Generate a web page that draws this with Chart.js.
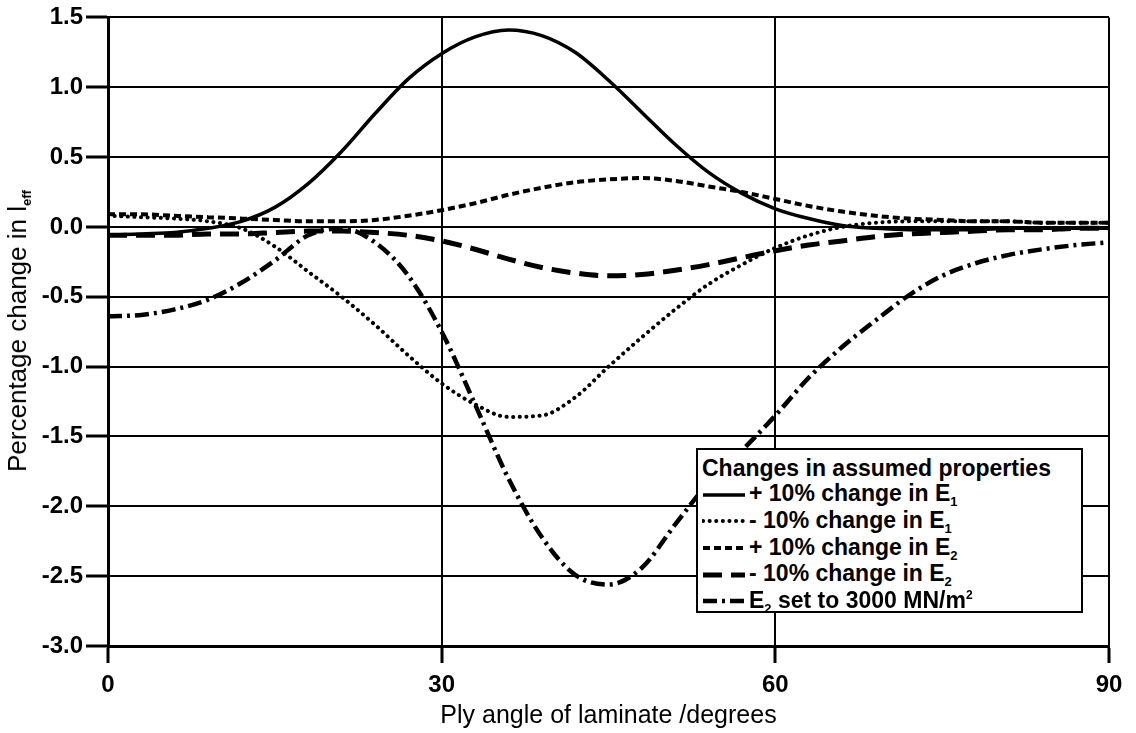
<!DOCTYPE html>
<html>
<head>
<meta charset="utf-8">
<script src="https://cdn.jsdelivr.net/npm/chart.js@4/dist/chart.umd.min.js"></script>
<style>
  html, body { margin: 0; padding: 0; background: #fff; }
  #wrap { position: relative; width: 1136px; height: 733px; }
  #ytitle {
    position: absolute; left: 18px; top: 331px;
    transform: translate(-50%, -50%) rotate(-90deg);
    white-space: nowrap; font: 26px "Liberation Sans", Arial, sans-serif; color: #000;
  }
  #ytitle sub { font-size: 13px; font-weight: bold; vertical-align: -5px; }
  #legend {
    position: absolute; left: 696px; top: 448px; width: 387px; height: 165px;
    box-sizing: border-box; border: 2px solid #000; background: #fff;
    font: bold 23px "Liberation Sans", Arial, sans-serif; color: #000;
    padding: 5px 0 0 4px;
  }
  #legend .row { display: flex; align-items: center; height: 26.6px; white-space: nowrap; }
  #legend svg { flex: none; margin-right: 3px; }
  #legend sub { font-size: 13px; vertical-align: -5px; }
  #legend sup { font-size: 12px; }
</style>
</head>
<body>
<div id="wrap">
  <canvas id="chart" width="1136" height="733"></canvas>
  <div id="ytitle">Percentage change in l<sub>eff</sub></div>
  <div id="legend"></div>
</div>
<script>
// ply angle (degrees)
const angles = [0, 3, 6, 9, 12, 15, 18, 21, 24, 27, 30, 33, 36, 39, 42, 45,
                48, 51, 54, 57, 60, 63, 66, 69, 72, 75, 78, 81, 84, 87, 90];

// percentage change in l_eff for each assumed property change
const plusE1 = [-0.06, -0.05, -0.04, -0.01, 0.04, 0.14, 0.31, 0.54, 0.81, 1.06, 1.24, 1.36, 1.41, 1.37, 1.25, 1.05,
                0.82, 0.59, 0.39, 0.24, 0.13, 0.06, 0.01, -0.01, -0.02, -0.02, -0.02, -0.01, -0.01, -0.01, -0.01];
const minusE1 = [0.08, 0.07, 0.06, 0.04, -0.01, -0.14, -0.32, -0.5, -0.7, -0.92, -1.12, -1.27, -1.36, -1.35, -1.22, -1.0,
                 -0.79, -0.59, -0.41, -0.27, -0.15, -0.06, 0.0, 0.03, 0.04, 0.04, 0.04, 0.04, 0.03, 0.03, 0.03];
const plusE2 = [0.09, 0.09, 0.08, 0.07, 0.06, 0.05, 0.04, 0.04, 0.05, 0.08, 0.12, 0.17, 0.23, 0.28, 0.32, 0.34,
                0.35, 0.33, 0.29, 0.25, 0.2, 0.15, 0.11, 0.08, 0.06, 0.05, 0.04, 0.04, 0.03, 0.03, 0.03];
const minusE2 = [-0.06, -0.06, -0.06, -0.05, -0.05, -0.04, -0.03, -0.03, -0.04, -0.06, -0.1, -0.16, -0.23, -0.29, -0.33, -0.35,
                 -0.34, -0.31, -0.27, -0.22, -0.17, -0.13, -0.1, -0.07, -0.05, -0.04, -0.03, -0.02, -0.02, -0.01, -0.01];
const e2Set3000 = [-0.64, -0.63, -0.59, -0.52, -0.4, -0.24, -0.06, -0.01, -0.11, -0.35, -0.75, -1.27, -1.8, -2.22, -2.49, -2.56,
                   -2.44, -2.13, -1.83, -1.6, -1.35, -1.08, -0.86, -0.67, -0.49, -0.35, -0.26, -0.2, -0.16, -0.13, -0.11];

const xTicks = [0, 30, 60, 90];
const legendTitle = 'Changes in assumed properties';

const FONT = '"Liberation Sans", Arial, sans-serif';
const pts = arr => arr.map((v, i) => ({ x: angles[i], y: v }));

const series = [
  { label: '+ 10% change in E<sub>1</sub>', data: plusE1, dash: [], width: 3.5, cap: 'butt' },
  { label: '- 10% change in E<sub>1</sub>', data: minusE1, dash: [0.1, 6.5], width: 4, cap: 'round' },
  { label: '+ 10% change in E<sub>2</sub>', data: plusE2, dash: [7, 4], width: 4, cap: 'butt' },
  { label: '- 10% change in E<sub>2</sub>', data: minusE2, dash: [19, 9], width: 5, cap: 'butt' },
  { label: 'E<sub>2</sub> set to 3000 MN/m<sup>2</sup>', data: e2Set3000, dash: [14, 5, 3, 5], width: 4.5, cap: 'butt' }
];

const datasets = series.map(s => ({
  label: s.label,
  data: pts(s.data),
  borderColor: '#000',
  borderWidth: s.width,
  borderDash: s.dash,
  borderCapStyle: s.cap,
  pointRadius: 0,
  fill: false,
  cubicInterpolationMode: 'monotone'
}));

new Chart(document.getElementById('chart'), {
  type: 'line',
  data: { datasets: datasets },
  options: {
    responsive: false,
    animation: false,
    layout: { padding: { top: 16, right: 27, bottom: 0, left: 0 } },
    plugins: { legend: { display: false }, tooltip: { enabled: false } },
    scales: {
      x: {
        type: 'linear', min: 0, max: 90,
        afterBuildTicks: axis => { axis.ticks = xTicks.map(v => ({ value: v })); },
        ticks: { color: '#000', font: { family: FONT, size: 24, weight: 'bold' }, padding: 8, maxRotation: 0 },
        grid: { color: '#000', lineWidth: 2, tickLength: 17, tickColor: '#000', tickWidth: 3 },
        border: { color: '#000', width: 3 },
        title: { display: true, text: 'Ply angle of laminate /degrees', color: '#000',
                 font: { family: FONT, size: 25 }, padding: { top: 0, bottom: 2 } },
        afterFit: axis => { axis.height = 87; }
      },
      y: {
        min: -3, max: 1.5,
        ticks: { stepSize: 0.5, color: '#000', font: { family: FONT, size: 24, weight: 'bold' }, padding: 3,
                 callback: v => v.toFixed(1) },
        grid: { color: '#000', lineWidth: 2, tickLength: 22, tickColor: '#000', tickWidth: 3 },
        border: { color: '#000', width: 3 },
        afterFit: axis => { axis.width = 108; }
      }
    }
  }
});

// legend box
const legend = document.getElementById('legend');
let html = '<div class="row">' + legendTitle + '</div>';
series.forEach(s => {
  const dash = s.dash.length ? s.dash.join(' ') : 'none';
  html += '<div class="row"><svg width="44" height="20"><line x1="1" y1="10" x2="43" y2="10" stroke="#000" stroke-width="' +
    s.width + '" stroke-dasharray="' + dash + '" stroke-linecap="' + s.cap + '"/></svg><span>' + s.label + '</span></div>';
});
legend.innerHTML = html;
</script>
</body>
</html>
